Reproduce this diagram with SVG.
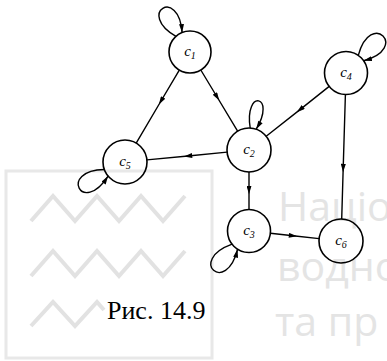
<svg xmlns="http://www.w3.org/2000/svg" width="387" height="361" viewBox="0 0 387 361">
<style>
.wm{fill:none;stroke:#e2e2e2;stroke-width:4;stroke-linejoin:miter}
.wmt{font-family:"Open Sans","Noto Sans",sans-serif;font-size:41px;fill:#e4e4e4}
.node circle{fill:none;stroke:#000;stroke-width:1.6}
.lbl{font-family:"Liberation Serif",serif;font-style:italic;font-size:15px;fill:#000;text-anchor:middle}
.sub{font-size:10px}
.edge{fill:none;stroke:#000;stroke-width:1.4}
.cap{font-family:"Liberation Serif","Times New Roman",serif;font-size:26px;fill:#000}
</style>
<defs>
<marker id="mid" viewBox="0 0 10 6" refX="5" refY="3" markerWidth="9" markerHeight="5" markerUnits="userSpaceOnUse" orient="auto"><path d="M0,0 L10,3 L0,6 z" fill="#000"/></marker>
<marker id="end" viewBox="0 0 10 6" refX="10" refY="3" markerWidth="9" markerHeight="5" markerUnits="userSpaceOnUse" orient="auto"><path d="M0,0 L10,3 L0,6 z" fill="#000"/></marker>
</defs>
<g id="watermark">
<rect x="6" y="171" width="206" height="187" fill="none" stroke="#e8e8e8" stroke-width="3"/>
<polyline class="wm" points="31,221 53,196 75,221 97,196 119,221 141,196 163,221 185,196"/>
<polyline class="wm" points="31,276 53,251 75,276 97,251 119,276 141,251 163,276 185,251"/>
<polyline class="wm" points="31,326 53,302 75,326 97,302 104,310"/>
<text class="wmt" x="278" y="221">Націо</text>
<text class="wmt" x="277" y="281">водно</text>
<text class="wmt" x="275" y="336">та пр</text>
</g>
<g id="connectors">
<path class="edge" d="M179.3,70.1 L161,101 L136.2,143.1" marker-mid="url(#mid)"/>
<path class="edge" d="M200.8,70 L217.1,97 L237.6,131.1" marker-mid="url(#mid)"/>
<path class="edge" d="M329.2,86.4 L300,109.6 L266.2,136.3" marker-mid="url(#mid)"/>
<path class="edge" d="M227.1,152.1 L188,156 L146.9,159.9" marker-mid="url(#mid)"/>
<path class="edge" d="M249,172 L249,190 L249,209.5" marker-mid="url(#mid)"/>
<path class="edge" d="M270.4,233.3 L293,235.8 L319.1,238.6" marker-mid="url(#mid)"/>
<path class="edge" d="M345.4,94.5 L343.2,168 L341.7,219" marker-mid="url(#mid)"/>
<path class="edge" d="M176,36.4 C136,13 178.8,-13.5 182.1,32.5" marker-end="url(#end)"/>
<path class="edge" d="M358.3,55.4 C370.7,9 410,48.3 363.6,60.7" marker-end="url(#end)"/>
<path class="edge" d="M104.3,169.5 C58.3,170.3 82,216.3 108.1,176.1" marker-end="url(#end)"/>
<path class="edge" d="M250.2,128 C244,88.5 276.8,94.9 256.2,129.2" marker-end="url(#end)"/>
<path class="edge" d="M232.1,244.2 C187,260.6 226,295.8 237.6,249.2" marker-end="url(#end)"/>
</g>
<g id="c1" class="node"><circle cx="190" cy="52" r="21"/><text class="lbl" x="190" y="56">c<tspan class="sub" dy="3">1</tspan></text></g>
<g id="c2" class="node"><circle cx="249" cy="150" r="22"/><text class="lbl" x="249" y="154">c<tspan class="sub" dy="3">2</tspan></text></g>
<g id="c3" class="node"><circle cx="249" cy="231" r="21.5"/><text class="lbl" x="249" y="235">c<tspan class="sub" dy="3">3</tspan></text></g>
<g id="c4" class="node"><circle cx="346" cy="73" r="21.5"/><text class="lbl" x="346" y="77">c<tspan class="sub" dy="3">4</tspan></text></g>
<g id="c5" class="node"><circle cx="125" cy="162" r="22"/><text class="lbl" x="125" y="166">c<tspan class="sub" dy="3">5</tspan></text></g>
<g id="c6" class="node"><circle cx="341" cy="241" r="22"/><text class="lbl" x="341" y="245">c<tspan class="sub" dy="3">6</tspan></text></g>
<text class="cap" x="107" y="319">Рис. 14.9</text>
</svg>
